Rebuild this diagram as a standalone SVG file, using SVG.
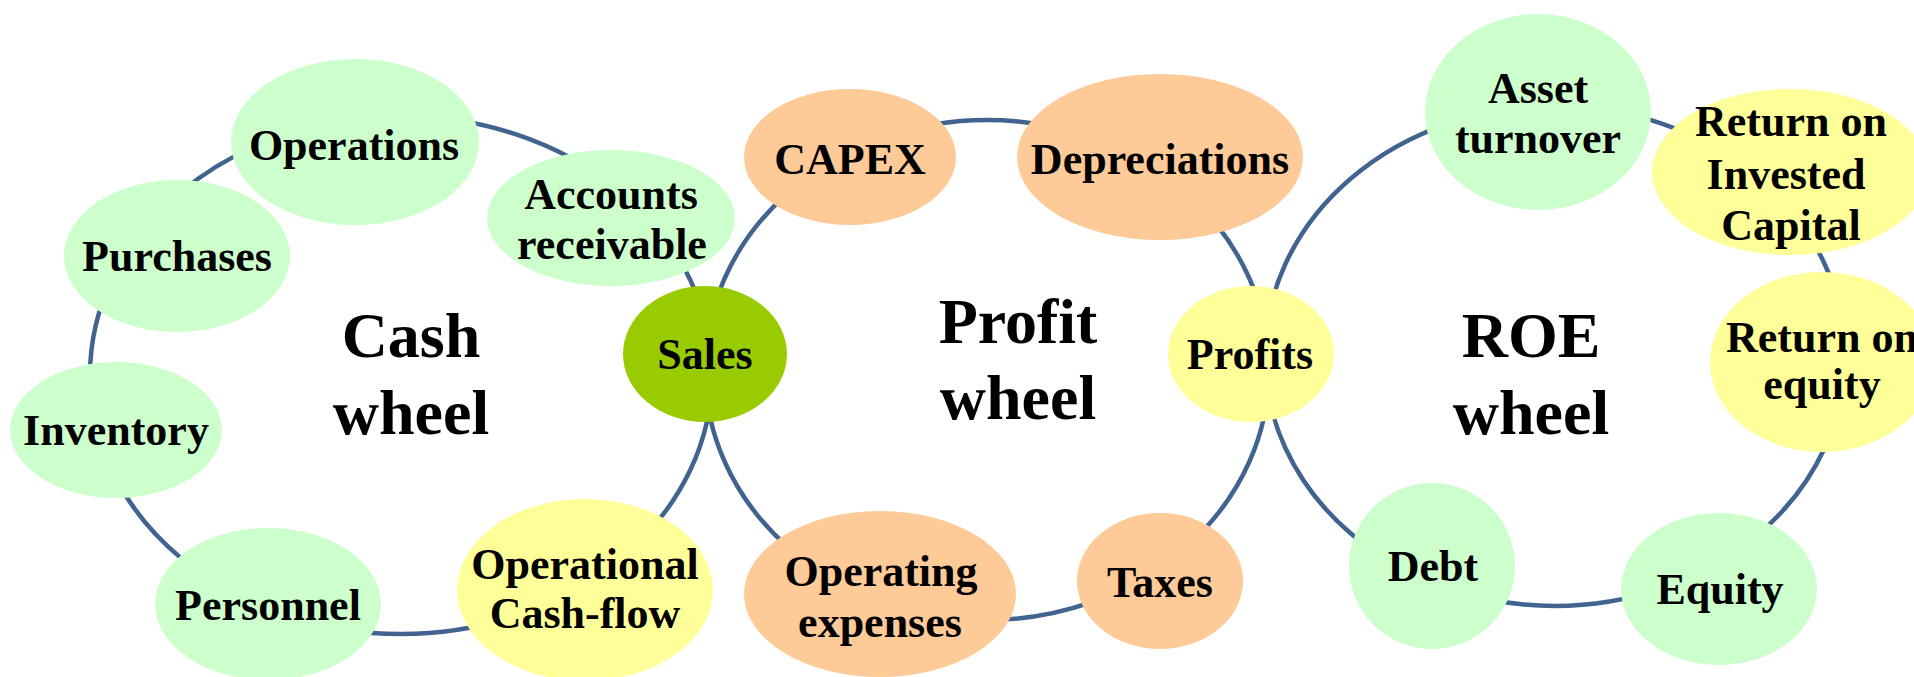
<svg xmlns="http://www.w3.org/2000/svg" width="1914" height="677" viewBox="0 0 1914 677">
<style>
.wheel{fill:none;stroke:#41638f;stroke-width:4.5}
.g{fill:#ccffcc}
.o{fill:#fdca98}
.y{fill:#ffff99}
.s{fill:#99cc00}
text{font-family:"Liberation Serif","Times New Roman",serif;font-weight:bold;fill:#000;text-anchor:middle}
.l{font-size:44px}
.t{font-size:64px}
</style>
<rect width="1914" height="677" fill="#fff"/>
<g id="connectors">
<ellipse class="wheel" cx="401" cy="375" rx="311" ry="259"/>
<ellipse class="wheel" cx="987" cy="370" rx="282" ry="250"/>
<ellipse class="wheel" cx="1555" cy="356" rx="290" ry="250"/>
</g>
<g id="title-cash"><text class="t" x="411" y="357">Cash</text><text class="t" x="411" y="434">wheel</text></g>
<g id="title-profit"><text class="t" x="1018" y="343">Profit</text><text class="t" x="1018" y="419">wheel</text></g>
<g id="title-roe"><text class="t" x="1531" y="357">ROE</text><text class="t" x="1531" y="434">wheel</text></g>
<g id="operations"><ellipse class="g" cx="355" cy="142" rx="124" ry="83"/><text class="l" x="354" y="160">Operations</text></g>
<g id="accounts-receivable"><ellipse class="g" cx="611" cy="218" rx="124" ry="68"/><text class="l" x="611" y="209">Accounts</text><text class="l" x="612" y="259">receivable</text></g>
<g id="purchases"><ellipse class="g" cx="177" cy="256" rx="113" ry="76"/><text class="l" x="177" y="271">Purchases</text></g>
<g id="inventory"><ellipse class="g" cx="116" cy="430" rx="106" ry="68"/><text class="l" x="116" y="445">Inventory</text></g>
<g id="personnel"><ellipse class="g" cx="268" cy="604" rx="113" ry="76"/><text class="l" x="268" y="620">Personnel</text></g>
<g id="operational-cash-flow"><ellipse class="y" cx="585" cy="590" rx="128" ry="91"/><text class="l" x="585" y="579">Operational</text><text class="l" x="585" y="628">Cash-flow</text></g>
<g id="sales"><ellipse class="s" cx="705" cy="354" rx="82" ry="68"/><text class="l" x="705" y="369">Sales</text></g>
<g id="capex"><ellipse class="o" cx="850" cy="157" rx="106" ry="68"/><text class="l" x="850" y="174">CAPEX</text></g>
<g id="depreciations"><ellipse class="o" cx="1160" cy="157" rx="143" ry="83"/><text class="l" x="1160" y="174">Depreciations</text></g>
<g id="profits"><ellipse class="y" cx="1251" cy="354" rx="83" ry="68"/><text class="l" x="1250" y="369">Profits</text></g>
<g id="operating-expenses"><ellipse class="o" cx="880" cy="594" rx="136" ry="83"/><text class="l" x="881" y="586">Operating</text><text class="l" x="880" y="637">expenses</text></g>
<g id="taxes"><ellipse class="o" cx="1160" cy="581" rx="83" ry="68"/><text class="l" x="1160" y="597">Taxes</text></g>
<g id="asset-turnover"><ellipse class="g" cx="1538" cy="112" rx="113" ry="98"/><text class="l" x="1538" y="103">Asset</text><text class="l" x="1538" y="153">turnover</text></g>
<g id="return-on-invested-capital"><ellipse class="y" cx="1790" cy="172" rx="138" ry="83"/><text class="l" x="1791" y="136">Return on</text><text class="l" x="1786" y="189">Invested</text><text class="l" x="1791" y="240">Capital</text></g>
<g id="return-on-equity"><ellipse class="y" cx="1822" cy="362" rx="112" ry="90"/><text class="l" x="1822" y="352">Return on</text><text class="l" x="1822" y="399">equity</text></g>
<g id="debt"><ellipse class="g" cx="1432" cy="566" rx="83" ry="83"/><text class="l" x="1433" y="581">Debt</text></g>
<g id="equity"><ellipse class="g" cx="1719" cy="589" rx="98" ry="76"/><text class="l" x="1720" y="604">Equity</text></g>
</svg>
